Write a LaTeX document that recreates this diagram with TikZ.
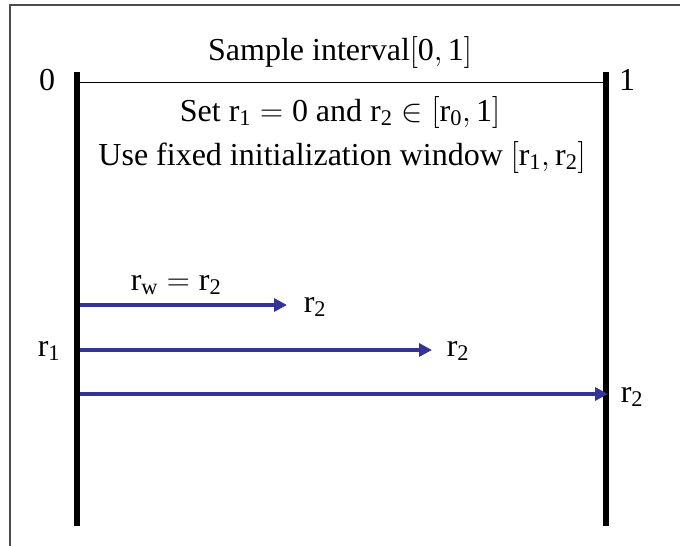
\documentclass[tikz,border=0pt]{standalone}
\usepackage{fix-cm}
\usepackage{fontspec}
\setmainfont{Liberation Serif}
\usetikzlibrary{arrows.meta}
\definecolor{arrowblue}{RGB}{52,52,150}
\newcommand{\rr}[1]{\mathrm{r}_{\mathrm{#1}}}
\newcommand{\nm}[1]{\mathrm{#1}}
\tikzset{
  bar/.style={line width=6pt, black},
  arr/.style={line width=3.6pt, arrowblue, -{Triangle[length=13pt,width=13pt]}},
  lbl/.style={font=\fontsize{32}{36}\selectfont, inner sep=0pt},
}
\begin{document}
\begin{tikzpicture}[x=1pt,y=-1pt]
\useasboundingbox (0,0) rectangle (680,546);
\draw[gray!60!black, line width=1.4pt] (10,546) -- (10,5) -- (680,5);
% bars
\coordinate (LT) at (77,72);
\coordinate (LB) at (77,526);
\coordinate (RT) at (606,72);
\coordinate (RB) at (606,526);
\draw[bar] (LT) -- (LB);
\draw[bar] (RT) -- (RB);
\coordinate (HL) at (77,82);
\coordinate (HR) at (606,82);
\draw[line width=1pt] (HL) -- (HR);
% labels
\node[lbl] (zero) at (47,80) {0};
\node[lbl] (one) at (627,80) {1};
\node[lbl] (t1) at (340,52) {Sample interval$\bigl[\nm{0},\nm{1}\bigr]$};
\node[lbl] (t2) at (340,113) {Set $\rr{1} = \nm{0}$ and $\rr{2} \in \bigl[\rr{0},\nm{1}\bigr]$};
\node[lbl] (t3) at (342,157) {Use fixed initialization window $\bigl[\rr{1},\rr{2}\bigr]$};
% arrows
\coordinate (a1s) at (80,305);
\coordinate (a1e) at (287,305);
\coordinate (a2s) at (80,350);
\coordinate (a2e) at (432,350);
\coordinate (a3s) at (80,394);
\coordinate (a3e) at (608,394);
\draw[arr] (a1s) -- (a1e);
\draw[arr] (a2s) -- (a2e);
\draw[arr] (a3s) -- (a3e);
\node[lbl] (rw) at (176,285) {$\rr{w} = \rr{2}$};
\node[lbl] (r2a) at (315,307) {$\rr{2}$};
\node[lbl] (r2b) at (458,351) {$\rr{2}$};
\node[lbl] (r2c) at (632,397) {$\rr{2}$};
\node[lbl] (r1) at (49,351) {$\rr{1}$};
\end{tikzpicture}
\end{document}
